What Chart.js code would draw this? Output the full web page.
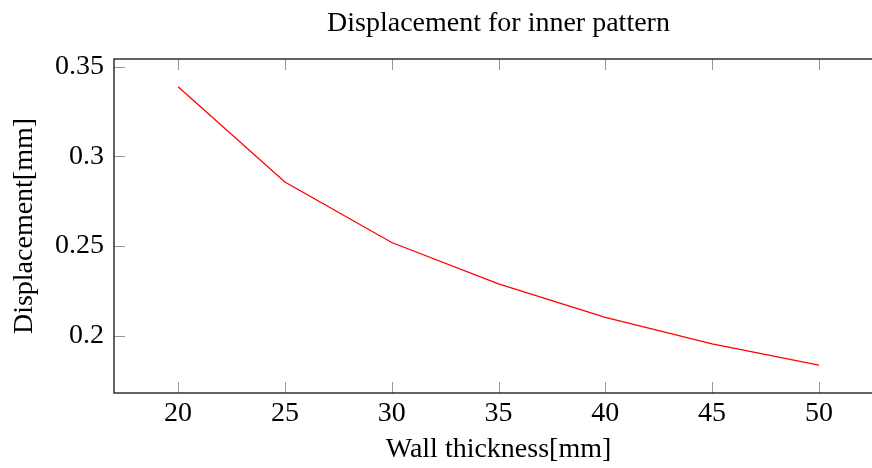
<!DOCTYPE html>
<html>
<head>
<meta charset="utf-8">
<script src="https://cdn.jsdelivr.net/npm/chart.js@4.4.1/dist/chart.umd.min.js"></script>
<style>
  html, body { margin: 0; padding: 0; background: #fff; overflow: hidden; }
  #wrap { width: 890px; height: 468px; }
</style>
</head>
<body>
<div id="wrap"><canvas id="disp" width="890" height="468"></canvas></div>
<script>
// wall thickness [mm] vs. displacement [mm] for the inner pattern
const thickness = [20, 25, 30, 35, 40, 45, 50];
const displacement = [0.3388, 0.2857, 0.2520, 0.2289, 0.2102, 0.1955, 0.1836];
const xTicks = [20, 25, 30, 35, 40, 45, 50];
const yTicks = [0.2, 0.25, 0.3, 0.35];

const serif = "'Liberation Serif', 'DejaVu Serif', serif";
Chart.defaults.font.family = serif;
Chart.defaults.color = '#000';

// pgfplots-like box: black frame plus short grey ticks pointing inward
const frameTicks = {
  id: 'frameTicks',
  afterDatasetsDraw(chart) {
    const { ctx, chartArea: a, scales: { x, y } } = chart;
    const len = 11;
    ctx.save();
    ctx.strokeStyle = '#999';
    ctx.lineWidth = 1;
    ctx.beginPath();
    xTicks.forEach(v => {
      const px = Math.round(x.getPixelForValue(v)) + 0.5;
      ctx.moveTo(px, a.bottom); ctx.lineTo(px, a.bottom - len);
      ctx.moveTo(px, a.top); ctx.lineTo(px, a.top + len);
    });
    yTicks.forEach(v => {
      const py = Math.round(y.getPixelForValue(v)) + 0.5;
      ctx.moveTo(a.left, py); ctx.lineTo(a.left + len, py);
      ctx.moveTo(a.right, py); ctx.lineTo(a.right - len, py);
    });
    ctx.stroke();
    ctx.strokeStyle = '#111';
    ctx.lineWidth = 1.3;
    ctx.strokeRect(a.left, a.top, a.right - a.left, a.bottom - a.top);
    ctx.restore();
  }
};

new Chart(document.getElementById('disp'), {
  type: 'line',
  data: {
    datasets: [{
      data: thickness.map((t, i) => ({ x: t, y: displacement[i] })),
      borderColor: '#ff0000',
      borderWidth: 1.3,
      pointRadius: 0,
      tension: 0,
      fill: false,
    }],
  },
  options: {
    responsive: false,
    animation: false,
    layout: { padding: { left: 0, right: 7, top: 0, bottom: 0 } },
    plugins: {
      legend: { display: false },
      tooltip: { enabled: false },
    },
    scales: {
      // top axis only carries the plot title, centred over the plot box
      top: {
        type: 'linear',
        position: 'top',
        min: 17, max: 53,
        grid: { display: false },
        border: { display: false },
        ticks: { display: false },
        afterFit: s => { s.height = 59; },
        title: {
          display: true,
          text: 'Displacement for inner pattern',
          font: { size: 28 },
          padding: { top: 7, bottom: 0 },
        },
      },
      x: {
        type: 'linear',
        min: 17, max: 53,
        grid: { display: false },
        border: { display: false },
        afterBuildTicks: s => { s.ticks = xTicks.map(v => ({ value: v })); },
        afterFit: s => { s.height = 75; },
        ticks: { font: { size: 28 }, padding: -4 },
        title: {
          display: true,
          text: 'Wall thickness[mm]',
          font: { size: 28 },
          padding: { top: 0, bottom: 2 },
        },
      },
      y: {
        type: 'linear',
        min: 0.1681, max: 0.3543,
        grid: { display: false },
        border: { display: false },
        afterBuildTicks: s => { s.ticks = yTicks.map(v => ({ value: v })); },
        afterFit: s => { s.width = 114; },
        ticks: { font: { size: 28 }, padding: 2, callback: v => String(v) },
        title: {
          display: true,
          text: 'Displacement[mm]',
          font: { size: 28 },
          padding: { top: 8, bottom: 0 },
        },
      },
    },
  },
  plugins: [frameTicks],
});
</script>
</body>
</html>
